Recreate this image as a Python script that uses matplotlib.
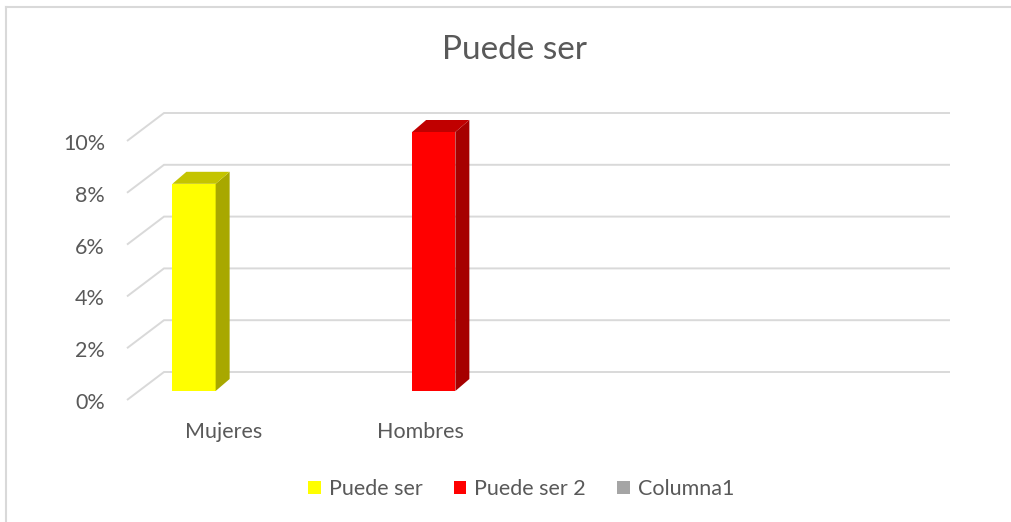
import matplotlib
matplotlib.use("Agg")
import matplotlib.pyplot as plt
from matplotlib.patches import Polygon, Rectangle
from matplotlib.lines import Line2D
import numpy as np

# data
categories = ["Mujeres", "Hombres", "", ""]
series_names = ["Puede ser", "Puede ser 2", "Columna1"]
puede_ser = [0.08, None, None, None]
puede_ser_2 = [None, 0.10, None, None]
columna1 = [None, None, None, None]
y_ticks = [0.0, 0.02, 0.04, 0.06, 0.08, 0.10]

front_colors = ["#FFFF00", "#FF0000", "#A5A5A5"]
side_colors = ["#A8A800", "#A60000", "#7C7C7C"]
top_colors = ["#C4C400", "#C00000", "#8C8C8C"]

plt.rcParams["font.family"] = ["Lato", "DejaVu Sans"]
TXT = "#595959"
GRID = "#D9D9D9"

W, H = 1011, 522
fig = plt.figure(figsize=(W / 100, H / 100), dpi=100)

# pixel geometry of the bar plane
PX_CAT = 196.5          # px per category
PX_VAL = 2590.0         # px per 1.0 of value
x0_px, y0_px = 139.0, 391.0   # bar plane: x=-0.5, y=0
xlim = (-0.6, 3.7)
ylim = (-0.006, 0.11)
left = x0_px + (xlim[0] + 0.5) * PX_CAT
right = x0_px + (xlim[1] + 0.5) * PX_CAT
bottom = y0_px - ylim[0] * PX_VAL
top = y0_px - ylim[1] * PX_VAL
ax = fig.add_axes([left / W, 1 - bottom / H, (right - left) / W, (bottom - top) / H])
ax.set_xlim(*xlim)
ax.set_ylim(*ylim)
ax.axis("off")

# plane offsets (in data units)
front_dx, front_dy = -12 / PX_CAT, -9 / PX_VAL
back_dx, back_dy = 25 / PX_CAT, 19 / PX_VAL
depth_dx, depth_dy = 14 / PX_CAT, 12 / PX_VAL

FS = 15.5

# gridlines: diagonal at the left wall + horizontal on the back wall
for v in y_ticks:
    xa, ya = -0.5 + front_dx, v + front_dy
    xb, yb = -0.5 + back_dx, v + back_dy
    xc = len(categories) - 0.5 + back_dx
    ax.plot([xa, xb, xc], [ya, yb, yb], color=GRID, lw=1.4, zorder=1,
            solid_joinstyle="miter", solid_capstyle="butt")
    ax.text(xa - 22 / PX_CAT, ya - 3 / PX_VAL, f"{v * 100:.0f}%", ha="right",
            va="center", fontsize=FS, color=TXT)

# category labels on the front plane
for i, c in enumerate(categories):
    if c:
        ax.text(i + front_dx - 1.5 / PX_CAT, front_dy - 32 / PX_VAL, c, ha="center",
                va="center", fontsize=FS, color=TXT)

# 3D-looking columns
bw = 0.22
offsets = [-bw, 0.0, bw]
all_series = [puede_ser, puede_ser_2, columna1]
x = np.arange(len(categories))
for s, (vals, off) in enumerate(zip(all_series, offsets)):
    heights = [np.nan if v is None else v for v in vals]
    ax.bar(x + off, heights, width=bw, color=front_colors[s], zorder=3,
           edgecolor="none")
    for xi, h in zip(x, heights):
        if np.isnan(h):
            continue
        xl, xr = xi + off - bw / 2, xi + off + bw / 2
        side = [(xr, 0), (xr + depth_dx, depth_dy), (xr + depth_dx, h + depth_dy), (xr, h)]
        topf = [(xl, h), (xr, h), (xr + depth_dx, h + depth_dy), (xl + depth_dx, h + depth_dy)]
        ax.add_patch(Polygon(side, closed=True, facecolor=side_colors[s],
                             edgecolor="none", zorder=3))
        ax.add_patch(Polygon(topf, closed=True, facecolor=top_colors[s],
                             edgecolor="none", zorder=3))

# title
fig.text(515 / W, 1 - 50 / H, "Puede ser", ha="center", va="center",
         fontsize=24, color=TXT)

# legend
handles = [Rectangle((0, 0), 1, 1, facecolor=c, edgecolor="none") for c in front_colors]
fig.legend(handles, series_names, loc="center", bbox_to_anchor=(521 / W, 1 - 489 / H),
           ncol=3, frameon=False, fontsize=FS, labelcolor=TXT,
           handlelength=0.6, handleheight=0.6, handletextpad=0.36,
           columnspacing=1.45, borderpad=0.2)

# chart border (top and left only)
fig.add_artist(Line2D([6 / W, 1.0], [1 - 7 / H, 1 - 7 / H], color="#D9D9D9", lw=1.5))
fig.add_artist(Line2D([6 / W, 6 / W], [1 - 7 / H, 0], color="#D9D9D9", lw=1.5))

fig.savefig("out.png", dpi=100)
